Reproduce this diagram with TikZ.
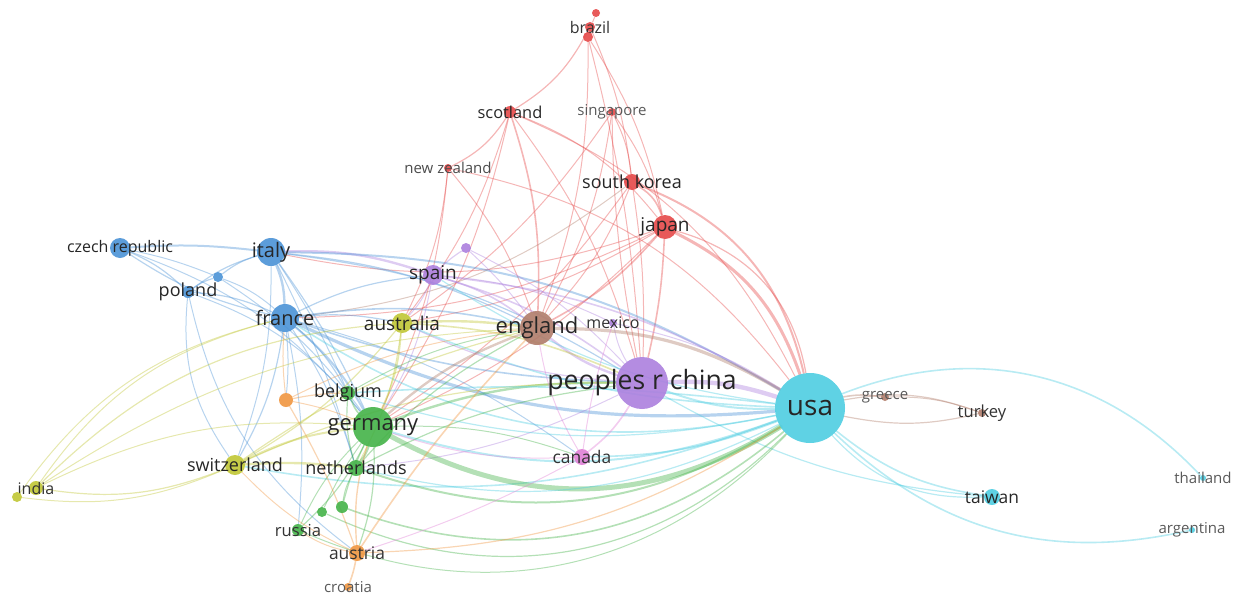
\documentclass[tikz,border=0pt]{standalone}
\usepackage{fontspec}
\setmainfont{Open Sans}
\usepackage{tikz}
\usetikzlibrary{backgrounds}
\definecolor{vred}{RGB}{229,72,72}
\definecolor{vblue}{RGB}{74,146,214}
\definecolor{vgreen}{RGB}{68,178,72}
\definecolor{vyel}{RGB}{192,198,52}
\definecolor{vpurp}{RGB}{172,128,222}
\definecolor{vcyan}{RGB}{78,205,225}
\definecolor{vorange}{RGB}{240,150,64}
\definecolor{vbrown}{RGB}{176,124,106}
\definecolor{vpink}{RGB}{224,128,214}
\tikzset{
    edge/.style={draw opacity=0.4, line cap=round}
}

\begin{document}
\begin{tikzpicture}[
    x=0.5pt, y=-0.5pt,
    cty/.style={circle, inner sep=0pt, minimum size=#1, fill opacity=0.9},
    lab/.style={font=\fontsize{#1}{#1}\selectfont, inner sep=0pt},
]
\useasboundingbox (0,0) rectangle (1240,594);

% Countries with labels
\foreach \nm/\px/\py/\rad/\col/\fs/\gr/\txt in {
    usa/810/408/35/vcyan/14/85/usa,
    china/642/383/26/vpurp/13.3/85/peoples r china,
    germany/373/427/20/vgreen/11/85/germany,
    england/537/328/17/vbrown/11/85/england,
    italy/271/252/14/vblue/10/85/italy,
    france/285/318/14/vblue/10/85/france,
    spain/433/275/10/vpurp/9.5/85/spain,
    australia/402/323/10/vyel/9.5/85/australia,
    japan/665/227/12/vred/9.5/85/japan,
    southkorea/632/182/8/vred/9/85/south korea,
    belgium/348/393/7/vgreen/9/85/belgium,
    netherlands/356/468/8/vgreen/9/85/netherlands,
    switzerland/235/465/10/vyel/9/85/switzerland,
    poland/188/292/6/vblue/9/85/poland,
    czech/120/248/10/vblue/8/85/czech republic,
    canada/582/457/8/vpink/8.7/80/canada,
    taiwan/992/497/8/vcyan/8.7/85/taiwan,
    austria/357/553/8/vorange/8.7/80/austria,
    russia/298/530/6/vgreen/8.3/80/russia,
    turkey/982/413/4/vbrown/8.3/80/turkey,
    scotland/510/112/6/vred/8.2/85/scotland,
    brazil/590/27/5/vred/8/80/brazil,
    india/36/488/7/vyel/8/80/india,
    mexico/613/323/4/vpurp/8/80/mexico,
    singapore/612/112/4/vred/7.5/65/singapore,
    newzealand/448/168/4/vred/7.5/70/new zealand,
    greece/885/397/4/vbrown/7.5/65/greece,
    thailand/1203/478/3/vcyan/7.5/65/thailand,
    argentina/1192/530/3/vcyan/7.5/65/argentina,
    croatia/348/587/4/vorange/7.5/65/croatia} {
    \node[cty=\rad pt, fill=\col] (\nm) at (\px,\py) {};
    \node[lab=\fs, text=black!\gr] at (\nm) {\txt};
}

% Countries without labels
\foreach \nm/\px/\py/\rad/\col in {
    bsmall/218/277/5/vblue, psmall/466/248/5/vpurp,
    osmall/286/400/7/vorange, gsmalla/322/512/5/vgreen,
    gsmallb/342/507/6/vgreen, ysmall/17/497/5/vyel,
    rtop/596/13/4/vred, rlow/588/37/5/vred} {
    \node[cty=\rad pt, fill=\col] (\nm) at (\px,\py) {};
}

% Links
\begin{scope}[on background layer]
\foreach \src/\dst/\w/\col/\bd in {
    brazil/scotland/0.6/vred/15, rlow/england/0.5/vred/10,
    rlow/japan/0.5/vred/10, brazil/southkorea/0.5/vred/8,
    rlow/china/0.5/vred/5, rtop/brazil/0.5/vred/5,
    scotland/england/0.8/vred/10, scotland/newzealand/0.6/vred/15,
    scotland/china/0.5/vred/10, scotland/germany/0.5/vred/10,
    scotland/australia/0.5/vred/10, scotland/usa/0.5/vred/20,
    scotland/japan/0.5/vred/15,
    singapore/southkorea/0.5/vred/10, singapore/japan/0.5/vred/10,
    china/singapore/0.5/vred/5, singapore/england/0.5/vred/10,
    singapore/australia/0.5/vred/10,
    newzealand/england/0.5/vred/10, newzealand/australia/0.5/vred/10,
    newzealand/usa/0.5/vred/20, newzealand/germany/0.5/vred/10,
    southkorea/japan/0.8/vred/20, southkorea/usa/1/vred/28,
    southkorea/china/0.5/vred/5, southkorea/england/0.5/vred/10,
    southkorea/germany/0.5/vred/10, southkorea/france/0.5/vbrown/15,
    japan/usa/1.5/vred/22, japan/usa/0.6/vred/32,
    japan/china/0.8/vred/5, japan/england/0.8/vred/10,
    japan/germany/0.5/vred/10, japan/france/0.5/vred/12,
    japan/italy/0.5/vred/15, japan/australia/0.5/vred/10,
    czech/italy/1/vblue/5, czech/poland/0.6/vblue/10,
    france/czech/0.6/vblue/10, czech/germany/0.5/vblue/15,
    czech/bsmall/0.5/vblue/5,
    italy/france/1.2/vblue/10, italy/spain/1.2/vpurp/10,
    italy/germany/0.6/vblue/5, italy/usa/1/vblue/15,
    italy/england/0.6/vblue/10, italy/china/0.6/vblue/12,
    poland/italy/0.6/vblue/10, italy/switzerland/0.5/vblue/10,
    bsmall/italy/0.6/vblue/10, italy/belgium/0.5/vblue/5,
    italy/netherlands/0.5/vblue/5,
    poland/france/0.6/vblue/10, poland/germany/0.5/vblue/15,
    poland/bsmall/0.6/vblue/10, switzerland/poland/0.5/vblue/20,
    austria/poland/0.5/vblue/20,
    france/germany/1/vblue/10, usa/france/1.6/vblue/15,
    usa/france/0.8/vcyan/22,
    france/england/0.8/vblue/10, france/belgium/0.6/vblue/10,
    france/switzerland/0.6/vblue/10, france/spain/0.6/vblue/10,
    china/france/0.8/vblue/8, france/canada/0.5/vblue/10,
    france/osmall/0.5/vblue/5, france/netherlands/0.5/vblue/8,
    france/australia/0.6/vblue/8, france/russia/0.5/vblue/8,
    bsmall/france/0.5/vblue/10, bsmall/germany/0.5/vblue/10,
    spain/england/0.8/vpurp/10, spain/usa/0.8/vpurp/12,
    spain/china/0.8/vpurp/10, spain/germany/0.5/vpurp/10,
    spain/australia/0.5/vpurp/10, spain/psmall/0.6/vpurp/5,
    spain/mexico/0.5/vpurp/10,
    psmall/china/0.5/vpurp/10, psmall/england/0.5/vpurp/5,
    china/usa/2.2/vpurp/10, usa/china/1/vcyan/10,
    china/england/1.2/vpurp/10, china/canada/0.8/vpink/10,
    china/australia/0.6/vpurp/10, germany/china/1.2/vgreen/10,
    china/mexico/0.5/vpurp/10, taiwan/china/0.6/vcyan/12,
    china/netherlands/0.5/vpurp/10, mexico/usa/0.5/vpurp/10,
    australia/england/1.2/vyel/5, usa/australia/0.8/vcyan/10,
    australia/china/0.8/vyel/10, australia/germany/0.8/vyel/10,
    australia/switzerland/0.6/vyel/10, india/australia/0.6/vyel/20,
    australia/netherlands/0.5/vyel/10,
    switzerland/germany/1/vyel/10, switzerland/netherlands/1.2/vyel/5,
    switzerland/india/0.6/vyel/15, usa/switzerland/0.8/vcyan/15,
    switzerland/england/0.6/vyel/10, switzerland/china/0.6/vyel/12,
    india/france/0.5/vyel/20, india/germany/0.5/vyel/15,
    india/england/0.5/vyel/15,
    switzerland/ysmall/0.5/vyel/15, ysmall/france/0.5/vyel/20,
    usa/germany/2.5/vgreen/30, usa/germany/1/vcyan/18,
    germany/netherlands/1/vgreen/10,
    germany/belgium/0.8/vgreen/10, germany/england/1.2/vbrown/10,
    germany/austria/0.6/vgreen/10, germany/russia/0.6/vgreen/10,
    germany/canada/0.5/vgreen/10,
    usa/netherlands/1/vgreen/25, usa/netherlands/0.6/vcyan/20,
    netherlands/england/0.6/vgreen/10,
    netherlands/belgium/0.6/vgreen/10, netherlands/china/0.6/vgreen/10,
    gsmalla/germany/0.5/vgreen/5, gsmallb/germany/0.6/vgreen/5,
    usa/gsmallb/0.8/vgreen/30, usa/gsmalla/0.6/vgreen/35,
    gsmallb/netherlands/0.5/vgreen/10, russia/germany/0.5/vgreen/10,
    usa/russia/0.5/vgreen/35, belgium/usa/0.8/vcyan/5,
    usa/belgium/0.6/vcyan/14, usa/spain/0.6/vcyan/12,
    belgium/england/0.5/vgreen/10,
    austria/germany/0.7/vorange/10, austria/croatia/0.8/vorange/5,
    austria/england/0.8/vorange/5, usa/austria/0.6/vorange/15,
    austria/switzerland/0.5/vorange/10, austria/russia/0.5/vorange/10,
    osmall/belgium/0.6/vorange/5, osmall/germany/0.5/vorange/5,
    osmall/austria/0.6/vorange/5, osmall/england/0.5/vorange/10,
    osmall/france/0.5/vorange/5,
    england/usa/1.6/vbrown/15, usa/greece/0.8/vbrown/10,
    usa/turkey/0.6/vbrown/15, turkey/usa/0.6/vbrown/12,
    greece/turkey/0.5/vbrown/10,
    taiwan/usa/0.8/vcyan/15, taiwan/usa/0.6/vcyan/25,
    usa/thailand/0.8/vcyan/34, argentina/usa/0.8/vcyan/28,
    usa/canada/0.8/vcyan/10,
    canada/england/0.5/vpink/10, canada/germany/0.5/vpink/10,
    canada/austria/0.5/vpink/5, canada/mexico/0.5/vpink/5} {
    \draw[edge, line width=\w pt, draw=\col] (\src) to[bend left=\bd] (\dst);
}
\end{scope}

\end{tikzpicture}
\end{document}
